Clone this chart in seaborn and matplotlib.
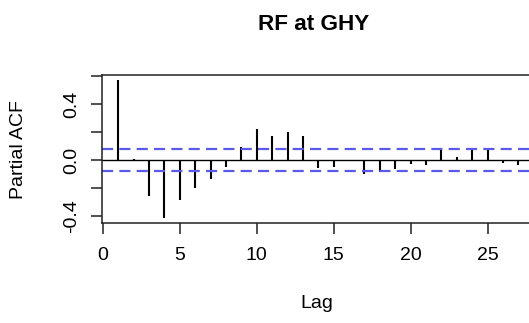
import numpy as np
import pandas as pd
import matplotlib
matplotlib.use("Agg")
import matplotlib.pyplot as plt
import seaborn as sns

# Data (partial autocorrelation by lag)
lags = list(range(1, 28))
pacf = [0.574, 0.010, -0.255, -0.414, -0.283, -0.200, -0.136, -0.045, 0.098,
        0.221, 0.174, 0.202, 0.172, -0.057, -0.045, -0.007, -0.098, -0.081,
        -0.060, -0.026, -0.031, 0.083, 0.026, 0.074, 0.079, -0.017, -0.031]
ci = 0.08
title = "RF at GHY"
xlabel = "Lag"
ylabel = "Partial ACF"
xticks = [0, 5, 10, 15, 20, 25]
yticks = [-0.4, -0.2, 0.0, 0.2, 0.4, 0.6]
yticklabels = ["-0.4", "", "0.0", "", "0.4", ""]

df = pd.DataFrame({"lag": lags, "pacf": pacf})

sns.set_theme(style="white")
plt.rcParams["font.family"] = ["Liberation Sans", "DejaVu Sans"]
plt.rcParams["text.color"] = "black"
plt.rcParams["axes.labelcolor"] = "black"
plt.rcParams["xtick.color"] = "black"
plt.rcParams["ytick.color"] = "black"

W, H = 529, 323
fig = plt.figure(figsize=(W / 100, H / 100), dpi=100)
ax = fig.add_axes([102.1 / W, (H - 223.3) / H, 432.4 / W, 148.3 / H])

ax.vlines(df["lag"], 0, df["pacf"], color="black", linewidth=1.5)
ax.axhline(0, color="black", linewidth=1.0)
for v in (ci, -ci):
    ax.axhline(v, color="#5a5ae6", linewidth=1.6, linestyle=(0, (5, 2.8)))

ax.set_xlim(-0.04, 28.04)
ax.set_ylim(-0.45, 0.609)
ax.set_xticks(xticks)
ax.set_xticklabels([str(t) for t in xticks])
ax.set_yticks(yticks)
ax.set_yticklabels(yticklabels)

for s in ax.spines.values():
    s.set_color("#222222")
    s.set_linewidth(1.1)

ax.tick_params(axis="both", direction="out", length=8, width=1.1, color="#222222",
               labelsize=14, labelcolor="black", bottom=True, left=True)
ax.tick_params(axis="x", pad=9)
ax.tick_params(axis="y", pad=8, labelrotation=90)
for lab in ax.get_yticklabels():
    lab.set_va("center")

ax.set_xlabel(xlabel, fontsize=14, va="baseline", color="black")
ax.xaxis.set_label_coords((317 - 102.1) / 432.4, -(308.5 - 223.3) / 148.3)
ax.set_ylabel(ylabel, fontsize=14, va="center", color="black")
ax.yaxis.set_label_coords((19 - 102.1) / 432.4, 0.5)

fig.text(314 / W, 1 - 30 / H, title, ha="center", va="baseline",
         fontsize=16.2, fontweight="bold", color="black")

fig.savefig("out.png", dpi=100, facecolor="white")
